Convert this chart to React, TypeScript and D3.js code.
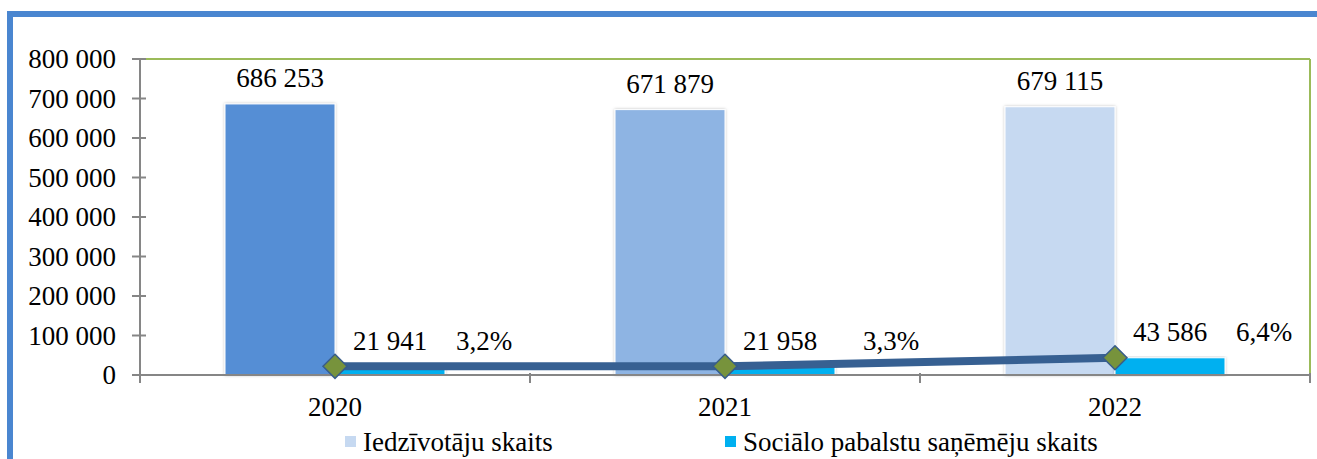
import React from "react";
import * as d3 from "d3";

const years = ["2020", "2021", "2022"];
const population = [686253, 671879, 679115];
const recipients = [21941, 21958, 43586];
const shares = ["3,2%", "3,3%", "6,4%"];
const yTicks = [0, 100000, 200000, 300000, 400000, 500000, 600000, 700000, 800000];
const popColors = ["#558ED5", "#8EB4E3", "#C6D9F1"];
const legendLabels = ["Iedzīvotāju skaits", "Sociālo pabalstu saņēmēju skaits"];
const legendColors = ["#C6D9F1", "#00B0F0"];

const W = 1317;
const H = 459;
const plot = { left: 140, top: 59, right: 1310, bottom: 375 };

const fmt = (v: number) => d3.format(",")(v).replace(/,/g, " ");

export default function App() {
  const x = d3.scaleBand<string>().domain(years).range([plot.left, plot.right]).paddingInner(0).paddingOuter(0);
  const y = d3.scaleLinear().domain([0, 800000]).range([plot.bottom, plot.top]);
  const barW = 110;
  const center = (yr: string) => (x(yr) as number) + x.bandwidth() / 2;
  const line = d3
    .line<number>()
    .x((_, i) => center(years[i]))
    .y((d) => y(d));

  const boundaries = [...years.map((yr) => x(yr) as number), plot.right];
  const ts = { fontFamily: "Liberation Serif", fontSize: "27px" };

  return (
    <svg width={W} height={H} style={{ position: "absolute", left: 0, top: 0, background: "#fff" }}>
      <defs>
        <filter id="sh" x="-10%" y="-10%" width="120%" height="120%">
          <feDropShadow dx="0" dy="0" stdDeviation="1.5" floodColor="#000" floodOpacity="0.25" />
        </filter>
      </defs>
      {/* outer frame */}
      <rect x={10} y={14} width={W + 20} height={H + 20} fill="none" stroke="#4A86D0" strokeWidth={6} />
      {/* plot border (green) */}
      <line x1={plot.left} x2={plot.right} y1={plot.top} y2={plot.top} stroke="#9BBB59" strokeWidth={2} />
      <line x1={plot.right} x2={plot.right} y1={plot.top} y2={plot.bottom} stroke="#9BBB59" strokeWidth={2} />

      {/* bars */}
      {years.map((yr, i) => (
        <g key={yr}>
          <rect
            x={center(yr) - barW}
            y={y(population[i])}
            width={barW}
            height={plot.bottom - y(population[i])}
            fill={popColors[i]}
            stroke="#fff"
            strokeWidth={1}
            filter="url(#sh)"
          />
          <rect
            x={center(yr)}
            y={y(recipients[i])}
            width={barW}
            height={plot.bottom - y(recipients[i])}
            fill="#00B0F0"
            stroke="#fff"
            strokeWidth={1}
            filter="url(#sh)"
          />
          <text x={center(yr) - barW / 2} y={y(population[i]) - 26} dy="0.35em" textAnchor="middle" style={ts} fill="#000">
            {fmt(population[i])}
          </text>
          <text x={center(yr) + barW / 2} y={y(recipients[i]) - 26} dy="0.35em" textAnchor="middle" style={ts} fill="#000">
            {fmt(recipients[i])}
          </text>
          <text x={center(yr) + barW + (i === 1 ? 28 : 11)} y={y(recipients[i]) - 26} dy="0.35em" textAnchor="start" style={ts} fill="#000">
            {shares[i]}
          </text>
        </g>
      ))}

      {/* axes */}
      <line x1={plot.left} x2={plot.left} y1={plot.top} y2={plot.bottom + 8} stroke="#868686" strokeWidth={2} />
      <line x1={plot.left - 8} x2={plot.right} y1={plot.bottom} y2={plot.bottom} stroke="#868686" strokeWidth={2} />
      {yTicks.map((t) => (
        <g key={t}>
          <line x1={plot.left - 8} x2={plot.left + 6} y1={y(t)} y2={y(t)} stroke="#868686" strokeWidth={2} />
          <text x={plot.left - 24} y={y(t)} dy="0.35em" textAnchor="end" style={ts} fill="#000">
            {fmt(t)}
          </text>
        </g>
      ))}
      {boundaries.map((b, i) => (
        <line key={i} x1={b} x2={b} y1={plot.bottom - 2} y2={plot.bottom + 8} stroke="#868686" strokeWidth={2} />
      ))}
      {years.map((yr) => (
        <text key={yr} x={center(yr)} y={407} dy="0.35em" textAnchor="middle" style={ts} fill="#000">
          {yr}
        </text>
      ))}

      {/* line series */}
      <path d={line(recipients) || ""} fill="none" stroke="#376092" strokeWidth={8} />
      {recipients.map((v, i) => {
        const cx = center(years[i]);
        const cy = y(v);
        const s = 12;
        return (
          <path
            key={i}
            d={`M${cx},${cy - s}L${cx + s},${cy}L${cx},${cy + s}L${cx - s},${cy}Z`}
            fill="#77933C"
            stroke="#385D8A"
            strokeWidth={1.5}
          />
        );
      })}

      {/* legend */}
      {legendLabels.map((lab, i) => {
        const lx = [345, 725][i];
        return (
          <g key={lab}>
            <rect x={lx} y={436} width={11} height={11} fill={legendColors[i]} />
            <text x={lx + 18} y={442} dy="0.35em" style={ts} fill="#000">
              {lab}
            </text>
          </g>
        );
      })}
    </svg>
  );
}
